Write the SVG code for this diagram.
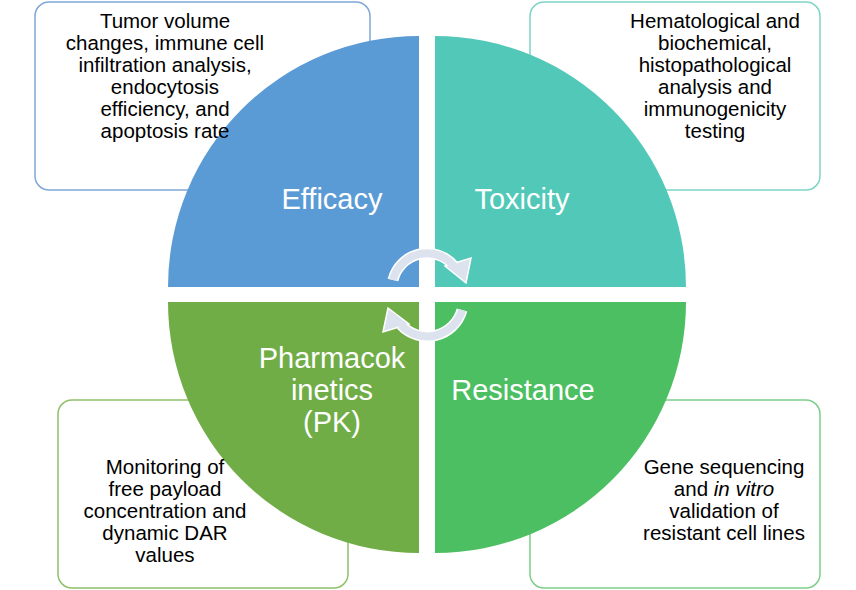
<svg xmlns="http://www.w3.org/2000/svg" width="856" height="590" viewBox="0 0 856 590">
<style>
.box{fill:#fff;stroke-width:1.5}
.t{font-family:"Liberation Sans",Arial,sans-serif;font-size:20.5px;fill:#000;text-anchor:middle}
.q{font-family:"Liberation Sans",Arial,sans-serif;font-size:29px;fill:#fff;text-anchor:middle}
.arc{fill:none;stroke:#dce3ef;stroke-width:8}
.arco{fill:none;stroke:#fff;stroke-width:11}
</style>
<rect width="856" height="590" fill="#fff"/>
<g id="box-efficacy"><rect class="box" x="35" y="2" width="335" height="188" rx="14" stroke="#7fa8d6"/></g>
<g id="box-toxicity"><rect class="box" x="530" y="2" width="290" height="188" rx="14" stroke="#7fd4c6"/></g>
<g id="box-pk"><rect class="box" x="58" y="400" width="290" height="188" rx="14" stroke="#8fc06a"/></g>
<g id="box-resistance"><rect class="box" x="530" y="400" width="290" height="188" rx="14" stroke="#7ccf8a"/></g>
<g id="q-efficacy"><path d="M419 287 L168 287 A251 251 0 0 1 419 36 Z" fill="#5b9bd5"/><text class="q" x="332" y="209">Efficacy</text></g>
<g id="q-toxicity"><path d="M435 287 L435 36 A251 251 0 0 1 686 287 Z" fill="#52c9b8"/><text class="q" x="522" y="209">Toxicity</text></g>
<g id="q-pk"><path d="M419 302 L419 553 A251 251 0 0 1 168 302 Z" fill="#70ad47"/><text class="q"><tspan x="332" y="368">Pharmacok</tspan><tspan x="332" y="400">inetics</tspan><tspan x="332" y="432">(PK)</tspan></text></g>
<g id="q-resistance"><path d="M435 302 L686 302 A251 251 0 0 1 435 553 Z" fill="#4cbf62"/><text class="q" x="523" y="400">Resistance</text></g>
<g id="label-efficacy"><text class="t"><tspan x="165" y="28">Tumor volume</tspan><tspan x="165" y="50">changes, immune  cell</tspan><tspan x="165" y="72">infiltration analysis,</tspan><tspan x="165" y="94">endocytosis</tspan><tspan x="165" y="116">efficiency, and</tspan><tspan x="165" y="138">apoptosis rate</tspan></text></g>
<g id="label-toxicity"><text class="t"><tspan x="715" y="28">Hematological and</tspan><tspan x="715" y="50">biochemical,</tspan><tspan x="715" y="72">histopathological</tspan><tspan x="715" y="94">analysis  and</tspan><tspan x="715" y="116">immunogenicity</tspan><tspan x="715" y="138">testing</tspan></text></g>
<g id="label-pk"><text class="t"><tspan x="165" y="474">Monitoring of</tspan><tspan x="165" y="496">free payload</tspan><tspan x="165" y="518">concentration and</tspan><tspan x="165" y="540">dynamic DAR</tspan><tspan x="165" y="562">values</tspan></text></g>
<g id="label-resistance"><text class="t"><tspan x="724" y="474">Gene sequencing</tspan><tspan x="724" y="496">and <tspan font-style="italic">in vitro</tspan></tspan><tspan x="724" y="518">validation of</tspan><tspan x="724" y="540">resistant cell lines</tspan></text></g>
<g id="connectors">
<path class="arco" d="M393 280 A35 35 0 0 1 454 266"/>
<polygon points="445,266 471,258 466,283" fill="#dce3ef" stroke="#fff" stroke-width="1.5"/>
<path class="arc" d="M393 280 A35 35 0 0 1 454 266"/>
<path class="arco" d="M462 310 A36 36 0 0 1 401 325"/>
<polygon points="409,324 383,332 388,308" fill="#dce3ef" stroke="#fff" stroke-width="1.5"/>
<path class="arc" d="M462 310 A36 36 0 0 1 401 325"/>
</g>
</svg>
